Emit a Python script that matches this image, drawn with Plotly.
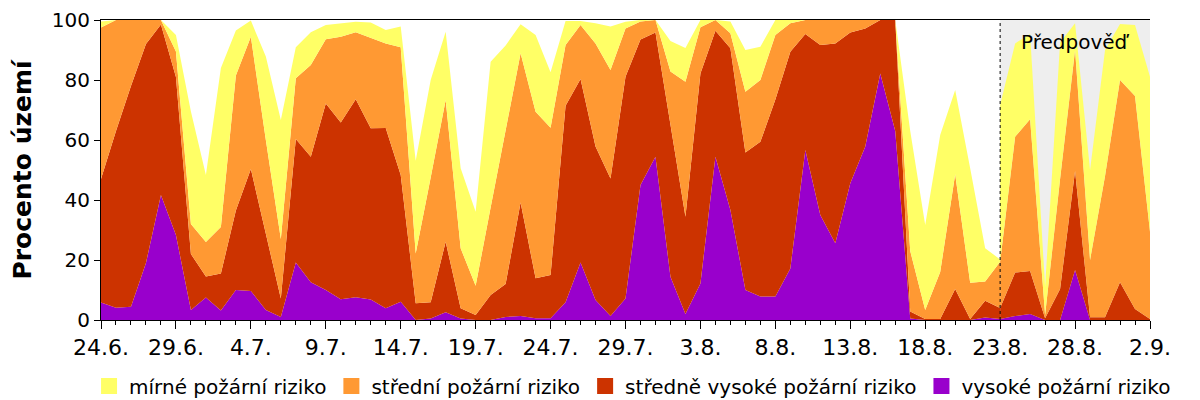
import pandas as pd
import plotly.graph_objects as go

# dny 24.6. - 2.9.
dny = pd.date_range("2015-06-24", "2015-09-02", freq="D")
popisky = ["24.6.", "29.6.", "4.7.", "9.7.", "14.7.", "19.7.", "24.7.", "29.7.",
           "3.8.", "8.8.", "13.8.", "18.8.", "23.8.", "28.8.", "2.9."]
zacatek_predpovedi = 60  # 23.8.

# skutecnost 24.6. - 23.8. (procento uzemi)
vysoke = [5.8, 4.1, 4.4, 19.0, 41.7, 28.3, 3.3, 7.5, 3.2, 10.0,
          9.7, 3.3, 1.0, 19.2, 12.6, 10.0, 6.9, 7.6, 6.8, 3.9,
          6.1, 0, 0.5, 2.6, 0.5, 0, 0, 1.0, 1.3, 0.6,
          0.6, 5.9, 19.2, 6.7, 1.3, 7.2, 45.0, 54.4, 14.4, 2.0,
          12.2, 54.4, 36.7, 10.0, 7.8, 7.8, 17.2, 56.7, 35.0, 25.6,
          45.6, 57.8, 82.2, 63.0, 0.5, 0, 0, 0, 0, 0.8, 0.3]
stredne_vysoke = [41.2, 58.9, 73.6, 73.0, 56.8, 52.7, 18.7, 7.0, 12.3, 26.5,
                  40.6, 25.7, 6.2, 41.1, 41.8, 62.2, 58.9, 66.0, 57.1, 60.1,
                  42.2, 5.6, 5.4, 23.5, 3.4, 1.7, 8.3, 11.0, 37.9, 13.3,
                  14.4, 65.5, 61.1, 51.1, 45.9, 73.9, 48.5, 41.4, 51.1, 32.4,
                  70.0, 42.0, 53.9, 45.8, 51.6, 65.7, 72.2, 38.6, 56.7, 66.6,
                  50.2, 39.4, 17.8, 37.0, 2.3, 0.3, 0.3, 10.3, 0.3, 5.6, 3.7]
stredni = [50.5, 37.0, 22.0, 8.0, 1.5, 8.5, 10.0, 11.5, 15.5, 45.0,
           44.1, 31.0, 19.8, 20.3, 30.6, 21.4, 28.6, 22.3, 30.1, 28.2,
           42.6, 16.6, 41.6, 47.2, 20.0, 9.7, 29.2, 51.0, 49.7, 55.5,
           49.1, 20.3, 18.0, 34.4, 36.1, 16.1, 6.0, 4.2, 17.3, 45.0,
           15.4, 3.6, 5.0, 20.3, 20.6, 21.5, 9.5, 4.7, 8.3, 7.8,
           4.2, 2.8, 0, 0, 20.2, 3.0, 15.7, 38.3, 12.1, 6.4, 15.4]
mirne = [2.0, 0, 0, 0, 0, 5.5, 37.5, 22.3, 53.0, 15.0,
         5.4, 27.8, 39.7, 10.3, 10.9, 4.7, 4.4, 3.5, 5.2, 4.5,
         6.9, 30.9, 32.5, 22.8, 26.7, 24.7, 48.6, 28.5, 9.7, 25.6,
         18.5, 8.0, 1.4, 6.7, 14.5, 2.2, 0.5, 0, 10.2, 11.3,
         2.4, 0, 3.9, 13.9, 11.1, 5.0, 1.1, 0, 0, 0,
         0, 0, 0, 0, 40.0, 28.4, 45.7, 28.1, 38.2, 11.1, 0.8]

# predpoved 23.8. - 2.9.
vysoke_p = [0.3, 1.3, 2.0, 0, 0, 16.7, 0, 0, 0, 0, 0]
stredne_vysoke_p = [3.7, 14.5, 14.3, 0.6, 10.3, 33.0, 0.9, 0.9, 12.6, 3.7, 0.3]
stredni_p = [15.4, 45.3, 50.6, 1.1, 36.7, 40.3, 19.1, 47.1, 67.4, 71.0, 29.1]
mirne_p = [52.3, 31.1, 28.4, 9.4, 45.5, 8.9, 30.0, 42.0, 18.7, 23.6, 51.7]

nazvy = ["vysoké požární riziko", "středně vysoké požární riziko",
         "střední požární riziko", "mírné požární riziko"]
barvy = ["#9900CC", "#CC3300", "#FF9933", "#FFFF66"]

x_skut = dny[:zacatek_predpovedi + 1]
x_pred = dny[zacatek_predpovedi:]

fig = go.Figure()

for skupina, xs, rady in [("skut", x_skut, [vysoke, stredne_vysoke, stredni, mirne]),
                          ("pred", x_pred, [vysoke_p, stredne_vysoke_p, stredni_p, mirne_p])]:
    for nazev, barva, y in zip(nazvy, barvy, rady):
        fig.add_trace(go.Scatter(
            x=xs, y=y, name=nazev, stackgroup=skupina,
            mode="lines", line=dict(width=0, color=barva),
            fillcolor=barva, showlegend=False,
        ))

# legenda se ctverecky (mirne -> vysoke)
for nazev, barva in reversed(list(zip(nazvy, barvy))):
    fig.add_trace(go.Scatter(
        x=[None], y=[None], name=nazev, mode="markers",
        marker=dict(symbol="square", size=18, color=barva),
    ))

fig.add_shape(type="rect", xref="x", yref="y",
              x0=dny[zacatek_predpovedi], x1=dny[-1], y0=0, y1=100,
              fillcolor="#EEEEEE", line_width=0, layer="below")
fig.add_shape(type="line", xref="x", yref="y",
              x0=dny[zacatek_predpovedi], x1=dny[zacatek_predpovedi], y0=0, y1=100,
              line=dict(color="black", width=1, dash="3px,3px"))
fig.add_annotation(x=dny[65], y=92.8, text="Předpověď", showarrow=False,
                   font=dict(size=20, color="black"))

fig.update_xaxes(
    range=[dny[0], dny[-1]],
    tickvals=dny[::5], ticktext=popisky,
    ticks="outside", ticklen=8, tickcolor="black",
    minor=dict(ticks="outside", ticklen=4, tickcolor="black",
               dtick=86400000, tick0=dny[0]),
    showline=True, linecolor="black", linewidth=1, mirror=True,
    showgrid=False, zeroline=False, automargin=False,
    tickfont=dict(size=22, color="black"),
)
fig.update_yaxes(
    range=[0, 100], dtick=20,
    ticks="outside", ticklen=6, tickcolor="black",
    showline=True, linecolor="black", linewidth=1,
    showgrid=False, zeroline=False, automargin=False,
    tickfont=dict(size=20, color="black"),
    title=dict(text="<b>Procento území</b>", font=dict(size=25, color="black")),
)
# stranka ma okraj 8 px, proto 1192 x 392
fig.update_layout(
    width=1192, height=392,
    margin=dict(l=93, r=50, t=12, b=80, autoexpand=False),
    plot_bgcolor="white", paper_bgcolor="white",
    font=dict(family="DejaVu Sans", color="black"),
    legend=dict(orientation="h", traceorder="normal",
                x=-0.0114, xanchor="left",
                y=-0.22, yanchor="middle",
                bgcolor="rgba(0,0,0,0)",
                font=dict(size=20), itemwidth=30, tracegroupgap=0),
    hovermode="x",
)

fig.write_html("out.html")
